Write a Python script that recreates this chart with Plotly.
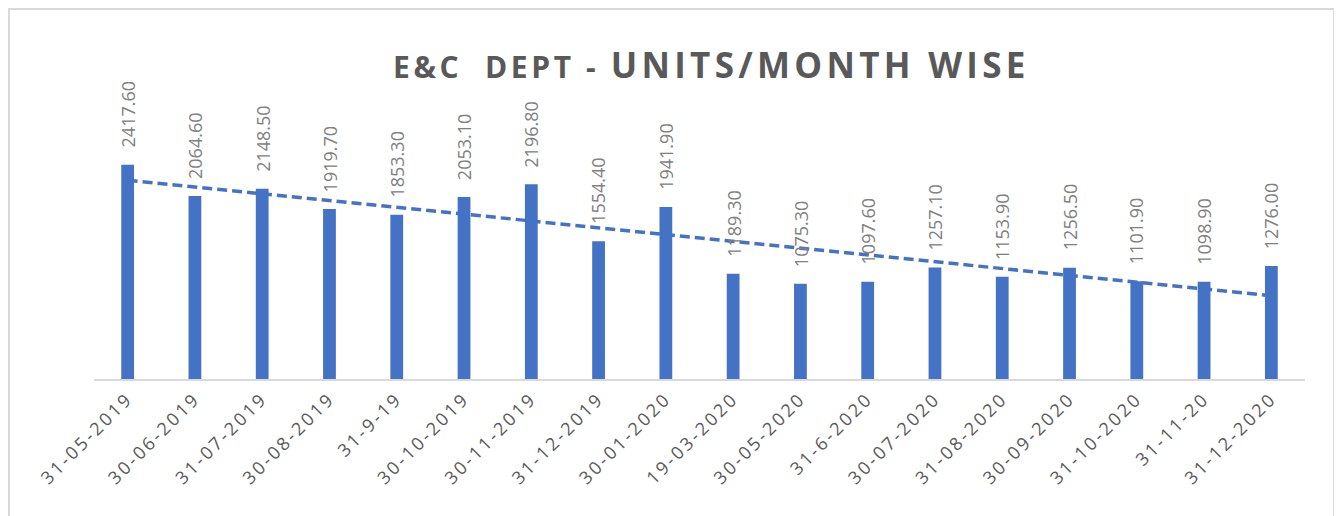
import numpy as np
import plotly.graph_objects as go

categories = ["31-05-2019", "30-06-2019", "31-07-2019", "30-08-2019", "31-9-19",
              "30-10-2019", "30-11-2019", "31-12-2019", "30-01-2020", "19-03-2020",
              "30-05-2020", "31-6-2020", "30-07-2020", "31-08-2020", "30-09-2020",
              "31-10-2020", "31-11-20", "31-12-2020"]
units = [2417.6, 2064.6, 2148.5, 1919.7, 1853.3, 2053.1, 2196.8, 1554.4, 1941.9,
         1189.3, 1075.3, 1097.6, 1257.1, 1153.9, 1256.5, 1101.9, 1098.9, 1276.0]

BLUE = "#4472C4"

# linear trendline (as Excel computes it)
idx = np.arange(len(units))
slope, intercept = np.polyfit(idx, units, 1)
trend = slope * idx + intercept

# page body has an 8px margin -> figure origin at (8, 8) of the window
W, H = 1334, 508
L, R, T, B = 86, 37, 22, 137
PW, PH = W - L - R, H - T - B
PX_PER_UNIT = 0.0886

fig = go.Figure()
fig.add_trace(go.Bar(x=categories, y=units, marker=dict(color=BLUE, line=dict(width=0)),
                     width=0.19, showlegend=False, hoverinfo="x+y"))
fig.add_trace(go.Scatter(x=[categories[0], categories[-1]], y=[trend[0], trend[-1]],
                         mode="lines", line=dict(color=BLUE, width=3.5, dash="10px,5px"),
                         showlegend=False, hoverinfo="skip"))

for c, v in zip(categories, units):
    fig.add_annotation(x=c, y=v, text=f"{v:.2f}", textangle=-90, showarrow=False,
                       xanchor="center", yanchor="bottom", yshift=15,
                       font=dict(family="Open Sans", size=18, color="#808080"))

# title
fig.add_annotation(xref="paper", yref="paper", x=(703 - L) / PW, y=(H - B - 56) / PH,
                   xanchor="center", yanchor="middle", showarrow=False,
                   text="<b><span style='font-size:30px;letter-spacing:3.6px'>E&C\u00a0 DEPT - </span>"
                        "<span style='font-size:35px;letter-spacing:4.3px'>UNITS/MONTH WISE</span></b>",
                   font=dict(family="Open Sans", size=35, color="#595959"))

# chart border
fig.add_shape(type="rect", xref="paper", yref="paper",
              x0=(1 - L) / PW, x1=(1326 - L) / PW,
              y0=-(560 - (H - B)) / PH, y1=(H - B - 1) / PH,
              line=dict(color="#d9d9d9", width=2), fillcolor="rgba(0,0,0,0)", layer="above")

ticktext = [f"<span style='letter-spacing:2.7px'>{c}</span>" for c in categories]

fig.update_layout(
    width=W, height=H,
    margin=dict(l=L, r=R, t=T, b=B),
    paper_bgcolor="white", plot_bgcolor="white",
    xaxis=dict(type="category", showline=True, linecolor="#d9d9d9", linewidth=2,
               ticks="", tickangle=-45, showgrid=False, zeroline=False,
               tickmode="array", tickvals=categories, ticktext=ticktext,
               tickfont=dict(family="Open Sans", size=18, color="#595959")),
    yaxis=dict(range=[0, PH / PX_PER_UNIT], visible=False, showgrid=False, zeroline=False),
)

fig.write_html("out.html")
